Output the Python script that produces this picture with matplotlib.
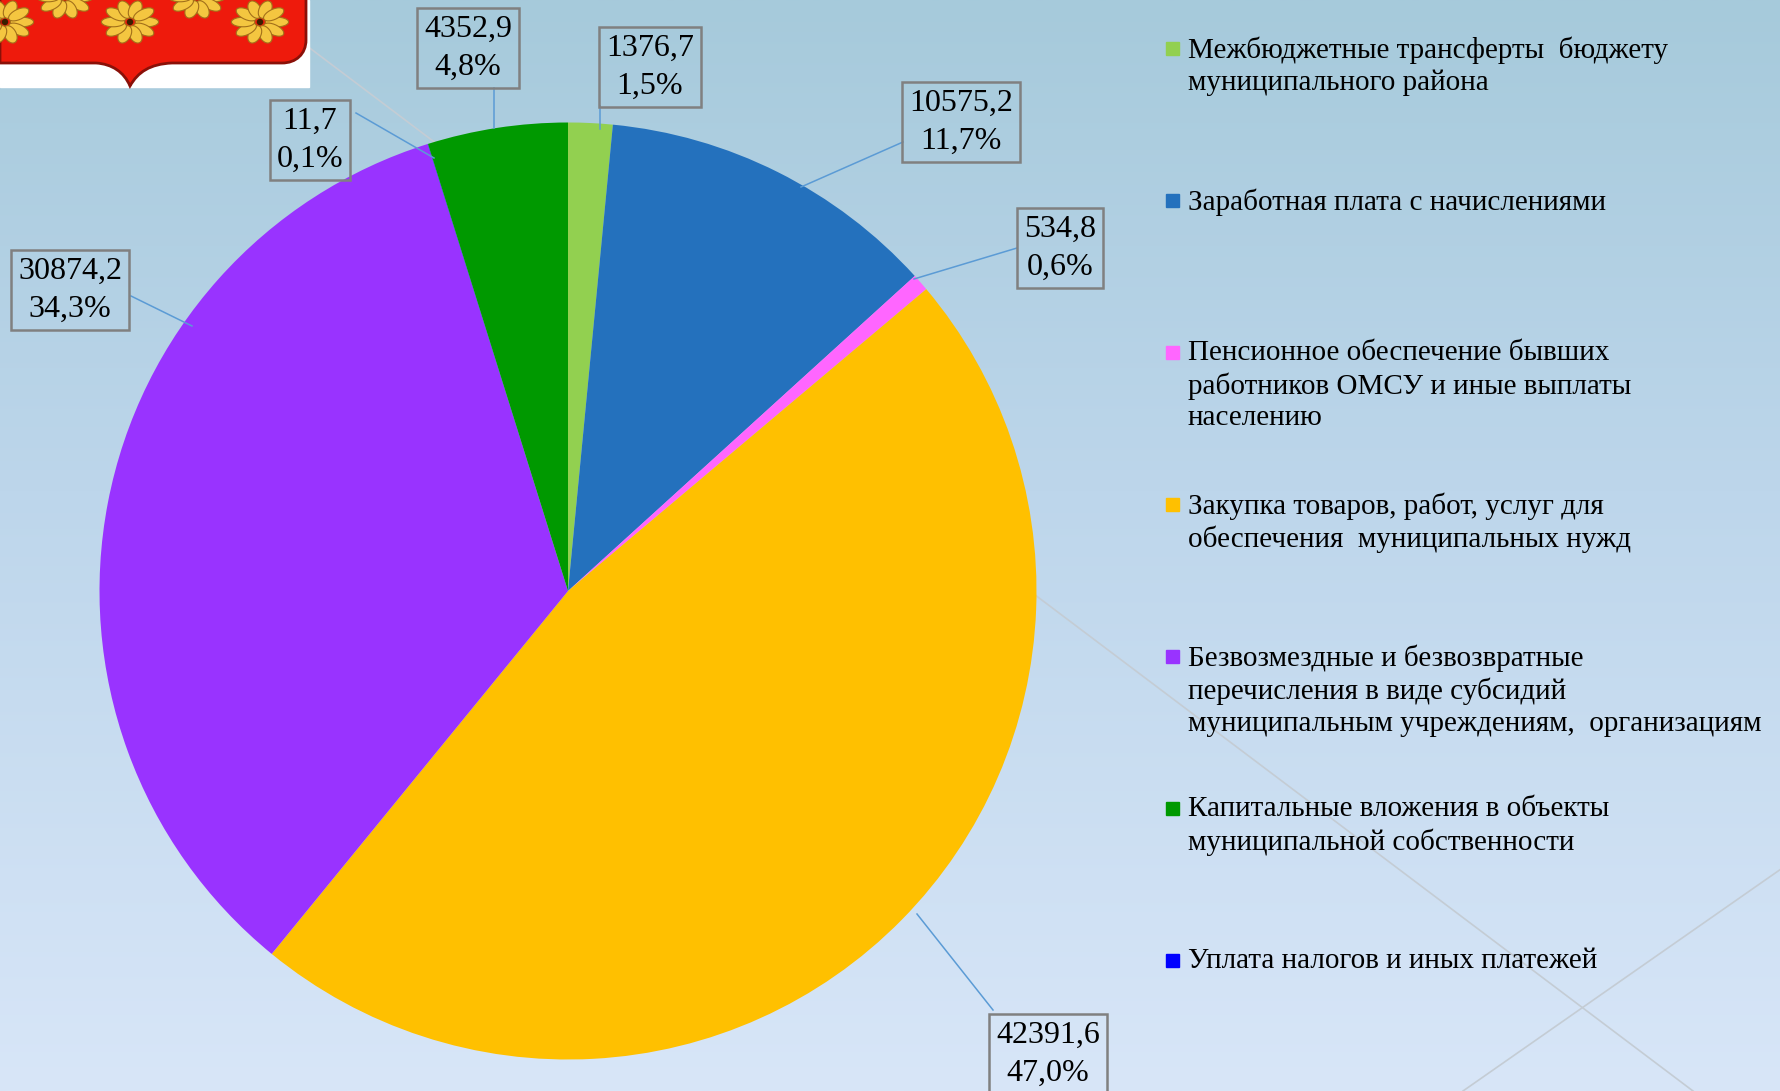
import numpy as np
import matplotlib
matplotlib.use("Agg")
import matplotlib.pyplot as plt
from matplotlib.patches import Rectangle, PathPatch, Polygon, Circle
from matplotlib.path import Path
from matplotlib.colors import to_rgb

# ---------------- data (legend order) ----------------
categories = [
    "Межбюджетные трансферты  бюджету\nмуниципального района",
    "Заработная плата с начислениями",
    "Пенсионное обеспечение бывших\nработников ОМСУ и иные выплаты\nнаселению",
    "Закупка товаров, работ, услуг для\nобеспечения  муниципальных нужд",
    "Безвозмездные и безвозвратные\nперечисления в виде субсидий\nмуниципальным учреждениям,  организациям",
    "Капитальные вложения в объекты\nмуниципальной собственности",
    "Уплата налогов и иных платежей",
]
values = [1376.7, 10575.2, 534.8, 42391.6, 30874.2, 4352.9, 11.7]
percents = ["1,5%", "11,7%", "0,6%", "47,0%", "34,3%", "4,8%", "0,1%"]
colors = ["#92D050", "#2471BD", "#FF66FF", "#FFC000", "#9933FF", "#009900", "#0000FF"]
pie_order = [0, 1, 2, 3, 4, 6, 5]   # clockwise order of slices from 12 o'clock

# ---------------- layout (pixel coords, y from top) ----------------
W, H = 1781, 1091
label_center = [(650, 67), (961, 122), (1060, 248), (1048, 1054),
                (70, 290), (468, 48), (310, 140)]
leaders = [((600, 106), (600, 129)), ((903, 142), (801, 187)),
           ((1017, 248), (914, 279)), ((917, 914), (993, 1010)),
           ((131, 296), (192, 326)), ((494, 88), (494, 128)),
           ((356, 113), (434, 158))]
pie_center = (568, 591)
pie_radius = 468.5
SERIF = ["Liberation Serif", "DejaVu Serif"]


def P(x, y):
    return x, H - y


fig = plt.figure(figsize=(W / 100, H / 100), dpi=100)
ax = fig.add_axes([0, 0, 1, 1])

# background gradient
stops = [(0.0, "#A6CADB"), (0.45, "#BDD6EB"), (1.0, "#D8E6F8")]
ys = np.linspace(0, 1, 400)
grad = np.zeros((400, 1, 3))
for c in range(3):
    grad[:, 0, c] = np.interp(ys, [s[0] for s in stops], [to_rgb(s[1])[c] for s in stops])
ax.imshow(grad, extent=[0, W, 0, H], aspect="auto", origin="upper", zorder=0)

# decorative faint lines
for (a, b) in [((246, 0), (1693, 1091)), ((1781, 869), (1463, 1091))]:
    ax.plot(*zip(P(*a), P(*b)), color="#C4CCD4", lw=1.2, zorder=1)

# pie
wedges, _ = ax.pie([values[i] for i in pie_order],
                   colors=[colors[i] for i in pie_order],
                   startangle=90, counterclock=False,
                   center=P(*pie_center), radius=pie_radius,
                   wedgeprops=dict(linewidth=0, zorder=3))

# data labels
for i, v in enumerate(values):
    txt = f"{v:.1f}".replace(".", ",") + "\n" + percents[i]
    cx, cy = P(*label_center[i])
    ax.text(cx, cy, txt, ha="center", va="center", fontsize=23,
            family=SERIF, linespacing=1.4, color="black", zorder=6,
            bbox=dict(boxstyle="square,pad=0.22", fc="none", ec="#808080", lw=1.8))
    (x1, y1), (x2, y2) = leaders[i]
    ax.plot(*zip(P(x1, y1), P(x2, y2)), color="#5B9BD5", lw=1.1, zorder=5)

# legend (manual, from data)
for i, cat in enumerate(categories):
    y0 = 48 + 152 * i
    sx, sy = P(1166, y0 + 6.5)
    ax.add_patch(Rectangle((sx, sy), 13, 13, color=colors[i], zorder=6))
    tx, ty = P(1188, y0 - 12)
    ax.text(tx, ty, cat, ha="left", va="top", fontsize=21,
            family=SERIF, linespacing=1.28, color="black", zorder=6)

# coat of arms fragment (top-left decoration)
ax.add_patch(Rectangle(P(0, 87), 309, 87, color="white", zorder=7))
shield = [(0, -5), (306, -5), (306, 40), (306, 54), (296, 63), (282, 63),
          (172, 63), (150, 64), (138, 72), (130, 86), (124, 72), (112, 64),
          (96, 63), (0, 63), (0, -5)]
codes = [Path.MOVETO, Path.LINETO, Path.LINETO, Path.CURVE4, Path.CURVE4, Path.CURVE4,
         Path.LINETO, Path.CURVE4, Path.CURVE4, Path.CURVE4, Path.CURVE4, Path.CURVE4,
         Path.CURVE4, Path.LINETO, Path.CLOSEPOLY]
ax.add_patch(PathPatch(Path([P(x, y) for x, y in shield], codes),
                       fc="#EE1A0C", ec="#8A1008", lw=2, zorder=8))
for (fx, fy) in [(5, 22), (130, 22), (260, 22), (65, -3), (197, -3)]:
    for k in range(10):
        th = 2 * np.pi * k / 10
        t = np.linspace(0, 2 * np.pi, 30)
        px = 13 + 9 * np.cos(t)
        py = 4.8 * np.sin(t)
        rx = px * np.cos(th) - py * np.sin(th)
        ry = px * np.sin(th) + py * np.cos(th)
        pts = [P(fx + 1.3 * a, fy + b) for a, b in zip(rx, ry)]
        ax.add_patch(Polygon(pts, closed=True, fc="#F4C640", ec="#A2701A", lw=0.8, zorder=9))
    ax.add_patch(Circle(P(fx, fy), 2.5, color="#3A2000", zorder=10))

ax.set_xlim(0, W)
ax.set_ylim(0, H)
ax.set_aspect("auto")
ax.axis("off")

fig.savefig("out.png", dpi=100)
